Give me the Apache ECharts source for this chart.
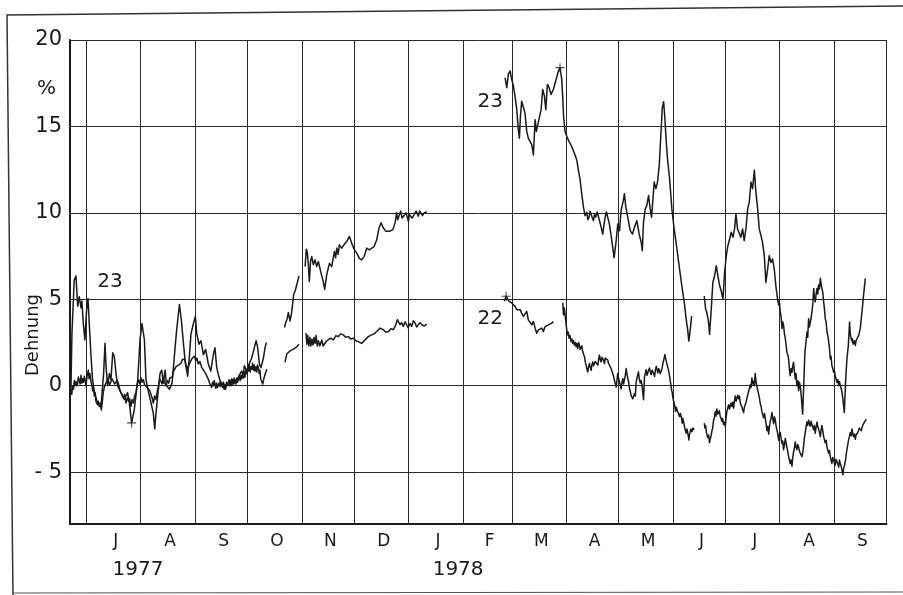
<!DOCTYPE html>
<html>
<head>
<meta charset="utf-8">
<script src="https://cdn.jsdelivr.net/npm/echarts@6/dist/echarts.min.js"></script>
<style>
html,body{margin:0;padding:0;background:#fff;}
#chart{width:903px;height:595px;}
</style>
</head>
<body>
<div id="chart"></div>
<script>
// x values: days since 1 July 1977; y values: Dehnung in %
const monthStarts = [0,31,62,92,123,153,184,215,243,274,304,335,365,396,427,457];
const monthLetters = ['J','A','S','O','N','D','J','F','M','A','M','J','J','A','S'];
const yearLabels = ['1977','1978'];
const yearDays = [29.4, 212.3];
const yTicks = [-5,0,5,10,15,20];

// Series 23
const s23_1977a = [[-8.9,-0.4],[-8.3,3.0],[-7.0,6.1],[-6.0,6.35],[-5.0,4.6],[-4.1,5.15],[-3.1,4.5],[-2.6,4.9],[-1.8,3.6],[-0.9,2.65],[0.1,4.4],[0.9,5.05],[1.6,3.6],[2.6,1.7],[3.5,0.35],[4.5,-0.4],[6.4,-1.0],[8.3,-1.2],[9.8,0.7],[10.6,2.45],[11.2,1.1],[12.1,0.0],[13.1,0.7],[14.0,0.35],[15.0,1.9],[15.9,1.7],[16.9,0.7],[17.8,0.0],[19.7,-0.4],[21.6,-0.8],[23.5,-0.4],[24.5,-1.0],[25.8,-2.15],[27.3,-1.4],[29.3,0.35],[30.6,2.65],[31.7,3.6],[33.1,2.65],[34.0,0.35],[35.5,-0.4],[36.9,-1.0],[38.2,-1.6],[39.0,-2.5],[39.7,-1.6],[40.7,-0.6],[42.0,0.7],[43.0,0.9],[43.9,0.15],[44.9,0.9],[45.8,0.0],[47.4,-0.2],[48.9,0.15],[50.2,1.7],[51.5,3.2],[53.1,4.7],[54.2,3.8],[55.4,2.45],[56.5,1.3],[57.8,0.55],[58.8,1.7],[59.7,3.0],[61.1,3.6],[62.2,4.0],[63.0,3.0],[64.3,2.4],[65.4,2.6],[66.8,1.8],[68.1,2.1],[69.6,1.25],[71.0,0.85],[72.5,1.8],[73.4,2.2],[74.4,1.05],[75.7,0.5],[77.2,0.0],[78.2,0.2],[79.1,-0.2],[80.0,0.1],[81.0,0.2],[82.0,0.0],[83.0,0.4],[84.0,0.1],[84.9,0.2],[85.9,0.35],[86.8,0.5],[87.8,0.7],[88.7,0.85],[89.5,0.6],[90.2,1.15],[91.5,0.85],[92.9,1.25],[94.4,1.6],[95.9,2.2],[96.9,2.6],[97.8,2.2],[98.8,1.25],[99.7,1.05],[101.1,1.6],[102.0,2.2],[102.8,2.5]];
const s23_1977b = [[113.1,3.37],[113.8,3.65],[114.6,3.85],[115.3,4.23],[116.3,3.75],[117.2,4.23],[118.4,5.29],[119.2,5.48],[120.1,5.83],[121.4,6.35]];
const s23_1977c = [[124.9,6.89],[125.6,7.9],[126.2,7.67],[126.7,7.1],[127.3,6.01],[128.0,7.2],[128.7,7.47],[129.6,7.0],[130.6,7.28],[131.5,6.9],[132.5,7.18],[133.8,6.6],[135.3,6.01],[136.1,5.58],[137.2,6.4],[138.8,7.08],[140.1,6.89],[141.6,7.76],[142.3,7.4],[143.0,7.96],[143.7,7.6],[144.5,8.15],[145.8,7.96],[147.1,8.15],[148.7,8.35],[150.2,8.64],[151.5,8.25],[153.1,7.86],[154.4,7.67],[155.9,7.37],[157.2,7.28],[158.6,7.47],[160.1,7.96],[161.4,7.86],[163.0,7.96],[164.3,8.05],[165.8,8.44],[167.1,9.12],[168.3,9.42],[169.6,9.12],[171.1,8.93],[173.1,8.93],[175.0,9.03],[176.3,9.42],[177.2,10.0],[177.8,9.6],[178.4,9.71],[179.5,10.1],[180.3,9.7],[181.1,9.81],[182.6,10.0],[183.9,9.51],[184.5,9.9],[185.2,10.0],[186.0,9.7],[186.8,9.81],[187.5,9.95],[188.3,10.1],[189.6,9.81],[190.3,10.1],[191.0,10.0],[192.0,9.85],[192.9,10.0],[194.4,10.06]];
const s23_1978a = [[239.1,17.82],[240.1,17.24],[241.0,18.02],[242.0,18.21],[242.9,17.72],[243.9,17.33],[244.8,16.75],[245.8,15.97],[246.7,14.8],[247.3,14.32],[247.9,15.58],[248.6,16.46],[249.6,16.36],[250.5,15.78],[251.5,14.71],[252.4,14.32],[253.4,14.22],[254.4,13.93],[255.3,13.35],[256.3,15.39],[257.0,14.71],[257.8,15.1],[258.5,15.0],[259.7,15.97],[260.6,17.14],[261.6,16.75],[262.4,15.97],[263.3,17.43],[264.3,17.24],[265.4,16.85],[266.7,17.14],[269.6,18.21],[270.5,18.4],[271.5,17.72],[272.1,16.56],[272.6,15.49],[273.4,14.71],[274.4,14.42],[275.7,14.12],[277.2,13.83],[278.2,13.93],[279.1,13.35],[280.1,13.05],[281.0,12.47],[282.0,11.89],[282.9,11.11],[283.9,10.33],[284.8,9.84],[285.8,10.04],[286.4,9.6],[287.1,9.75],[287.7,10.1],[288.3,10.04],[289.0,9.7],[289.6,9.55],[290.2,9.9],[290.9,9.75],[291.7,10.05],[292.5,9.94],[293.2,9.5],[294.0,9.16],[294.9,8.77],[295.6,9.3],[296.3,9.75],[297.0,10.05],[297.6,9.94],[298.7,9.36],[300.1,8.39],[301.4,7.41],[302.6,8.39],[303.5,9.36],[304.5,8.97],[305.4,10.14],[306.7,10.72],[307.3,11.11],[308.1,10.33],[309.2,9.75],[310.6,8.97],[311.9,8.77],[313.0,9.16],[314.4,9.55],[315.7,8.78],[316.9,8.29],[317.5,7.81],[318.2,9.46],[319.2,10.23],[320.1,10.43],[321.1,11.01],[322.0,10.23],[322.8,9.75],[323.6,10.81],[324.3,11.78],[325.3,11.4],[326.2,11.78],[327.2,12.75],[328.1,14.5],[328.9,16.05],[329.7,16.43],[330.4,15.47],[331.2,14.11],[331.9,13.14],[333.1,11.98],[334.4,10.23],[335.7,9.07],[337.3,7.91],[338.8,6.74],[340.1,5.78],[341.5,4.81],[342.6,3.84],[343.4,3.26],[344.1,2.58],[344.9,3.26],[345.7,4.03]];
const s23_1978b = [[352.9,5.19],[353.7,4.42],[354.4,4.22],[355.4,3.64],[355.9,2.97],[356.9,4.42],[357.8,5.97],[358.8,6.36],[359.8,6.94],[360.7,6.36],[361.7,5.78],[362.6,5.48],[363.6,5.0],[364.5,6.55],[365.5,7.52],[366.4,8.1],[367.4,8.49],[368.3,8.88],[369.3,8.59],[370.2,9.07],[371.0,9.94],[371.9,9.07],[372.9,9.07],[373.8,8.59],[374.8,9.07],[375.7,8.39],[376.7,9.07],[377.7,10.23],[378.6,10.62],[379.6,11.78],[380.5,11.4],[381.5,12.46],[382.4,11.2],[383.4,10.23],[384.3,9.07],[385.3,8.68],[386.2,8.29],[387.2,7.52],[388.1,5.97],[389.1,6.74],[390.0,7.52],[391.0,7.13],[391.9,7.33],[392.9,6.74],[393.8,5.78],[394.8,5.0],[395.4,4.66],[395.8,4.9],[396.3,4.27],[396.8,4.0],[397.3,3.3],[397.7,3.7],[398.2,3.5],[398.7,3.0],[399.2,2.72],[399.6,2.4],[400.1,1.94],[400.6,1.8],[401.1,1.55],[401.5,1.0],[402.0,0.58],[402.5,1.0],[403.0,0.78],[403.4,1.1],[403.9,1.36],[404.4,0.8],[404.9,0.39],[405.3,0.7],[405.8,0.0],[406.3,0.3],[406.8,-0.29],[407.2,0.2],[407.7,0.0],[408.3,-0.58],[409.1,-1.65],[409.7,0.0],[410.4,1.94],[411.6,3.11],[412.0,2.8],[412.5,3.88],[413.0,3.4],[413.5,3.5],[413.9,3.9],[414.4,4.27],[414.9,4.7],[415.4,5.63],[415.8,5.1],[416.3,4.85],[416.8,5.3],[417.3,5.63],[417.7,5.3],[418.2,5.83],[418.7,5.6],[419.2,6.21],[419.6,5.9],[420.1,5.83],[420.6,5.4],[421.1,4.85],[421.5,4.5],[422.0,3.88],[422.5,3.7],[423.0,3.11],[423.5,2.9],[424.0,2.52],[424.4,2.2],[424.9,1.55],[425.3,1.7],[425.8,1.17],[426.3,1.0],[426.8,0.78],[427.2,0.9],[427.7,0.58],[428.2,0.5],[428.7,0.19],[429.2,0.35],[429.7,0.0],[430.1,0.25],[430.6,0.0],[431.1,-0.15],[431.6,-0.39],[432.1,-0.78],[432.9,-1.55],[433.7,0.39],[434.4,1.55],[435.2,2.33],[435.9,3.69],[436.3,3.0],[436.7,3.11],[437.1,2.6],[437.5,2.72],[437.9,2.4],[438.2,2.33],[438.7,2.6],[439.2,2.33],[439.6,2.6],[440.1,2.52],[440.6,2.7],[441.1,2.91],[442.0,3.3],[443.0,4.27],[443.9,5.24],[444.9,6.21]];

// Series 22
const s22_1977a = [[-8.9,-0.23],[-8.4,-0.5],[-7.9,0.0],[-7.4,-0.2],[-6.9,0.3],[-6.5,0.0],[-6.0,0.25],[-5.5,0.0],[-5.0,0.15],[-4.6,0.5],[-4.1,0.45],[-3.6,0.1],[-3.1,0.6],[-2.6,0.15],[-2.1,0.4],[-1.7,0.2],[-1.2,0.55],[-0.7,0.3],[-0.3,0.0],[0.3,0.5],[1.05,0.9],[1.5,0.4],[2.0,0.7],[2.5,0.3],[3.15,0.0],[3.6,-0.3],[4.0,-0.1],[4.5,-0.6],[5.0,-0.4],[5.4,-0.9],[5.8,-0.8],[6.3,-1.1],[6.8,-0.9],[7.3,-1.2],[7.8,-1.0],[8.5,-1.4],[9.0,-1.0],[9.6,-0.4],[10.4,0.0],[11.2,0.15],[12.0,0.4],[12.7,0.35],[13.3,0.05],[14.0,0.0],[14.6,0.4],[15.3,0.35],[16.1,0.1],[16.9,0.0],[17.6,0.3],[18.4,0.05],[19.0,-0.2],[19.7,-0.4],[20.4,-0.3],[21.1,-0.7],[21.8,-0.5],[22.6,-1.0],[23.3,-0.7],[24.1,-0.9],[24.7,-0.75],[25.4,-1.2],[26.1,-0.8],[26.8,-1.0],[27.5,-0.6],[28.3,-0.4],[29.0,0.1],[29.8,0.35],[30.5,0.1],[31.2,0.45],[31.8,0.2],[32.5,0.35],[33.2,0.05],[34.0,0.15],[34.7,-0.1],[35.5,0.0],[36.2,-0.3],[36.9,-0.4],[37.5,-0.7],[38.2,-1.0],[38.9,-0.6],[39.7,-0.8],[40.5,-0.3],[41.2,0.0],[41.9,0.4],[42.6,0.35],[43.2,0.1],[43.9,0.45],[44.6,0.2],[45.4,0.0],[46.2,0.3],[47.0,0.15],[47.6,0.45],[48.3,0.35],[49.0,0.5],[49.6,0.8],[50.4,0.9],[51.2,1.1],[52.0,1.0],[52.7,1.2],[53.3,1.1],[54.0,1.3],[54.7,1.5],[55.3,1.4],[56.1,1.55],[56.9,1.2],[57.6,1.0],[58.4,0.9],[59.0,1.3],[59.7,1.2],[60.4,1.6],[61.1,1.5],[61.8,1.7],[62.4,1.45],[63.1,1.6],[63.9,1.25],[64.8,1.4],[65.8,1.06],[66.8,1.1],[67.7,0.77],[68.6,0.6],[69.6,0.38],[70.5,0.1],[71.5,-0.1],[72.0,0.2],[72.5,0.0],[73.0,0.3],[73.4,0.1],[73.9,-0.15],[74.4,0.15],[74.8,-0.1],[75.3,-0.1],[75.8,0.15],[76.3,-0.05],[76.7,0.25],[77.2,0.1],[77.7,-0.1],[78.2,0.15],[78.6,-0.2],[79.1,0.05],[79.5,-0.2],[80.0,0.2],[80.5,0.0],[81.0,0.1],[81.5,0.35],[82.0,0.05],[82.5,0.3],[83.0,0.0],[83.5,0.35],[84.0,0.15],[84.4,0.45],[84.9,0.3],[85.4,0.1],[85.9,0.45],[86.3,0.2],[86.8,0.2],[87.3,0.55],[87.8,0.3],[88.2,0.6],[88.7,0.4],[89.2,0.7],[89.7,0.45],[90.1,0.8],[90.6,0.5],[91.1,0.9],[91.6,0.7],[92.0,1.0],[92.5,0.85],[93.0,1.2],[93.5,0.8],[94.0,1.1],[94.4,0.95],[94.9,1.3],[95.4,0.9],[95.8,1.2],[96.3,0.85],[96.8,1.1],[97.3,0.8],[97.7,1.2],[98.2,1.05],[98.7,0.7],[99.1,0.9],[99.5,0.4],[100.1,0.3],[100.7,0.1],[101.3,0.4],[102.0,0.65],[102.5,0.8],[103.0,0.95]];
const s22_1977b = [[113.4,1.35],[114.4,1.83],[115.3,1.83],[116.3,2.02],[117.2,1.98],[118.2,2.12],[119.2,2.12],[120.1,2.25],[121.4,2.4]];
const s22_1977c = [[125.4,3.04],[125.9,2.4],[126.4,2.9],[127.0,2.3],[127.6,2.8],[128.2,2.3],[128.8,2.7],[129.4,2.35],[130.0,2.8],[130.6,2.45],[131.2,2.9],[131.8,2.3],[132.5,2.6],[133.3,2.3],[134.4,2.65],[135.2,2.3],[136.3,2.4],[137.2,2.6],[138.2,2.55],[139.5,2.75],[141.0,2.65],[142.5,2.9],[143.9,2.84],[145.2,3.0],[146.7,2.94],[148.1,2.8],[149.6,2.84],[151.0,2.7],[152.5,2.75],[153.9,2.6],[155.3,2.55],[157.2,2.45],[159.1,2.65],[161.0,2.84],[162.9,2.94],[164.3,3.0],[165.8,3.14],[167.7,3.33],[169.6,3.24],[171.0,3.1],[172.5,3.14],[173.9,3.3],[175.3,3.24],[176.4,3.45],[177.6,3.82],[179.1,3.53],[180.0,3.65],[181.0,3.43],[182.0,3.7],[182.9,3.63],[183.8,3.35],[184.8,3.6],[185.8,3.43],[186.7,3.75],[187.7,3.63],[188.6,3.4],[189.6,3.43],[190.5,3.65],[191.5,3.53],[192.9,3.45],[194.4,3.57]];
const s22_1978a = [[238.7,4.88],[239.7,5.18],[240.6,5.27],[241.4,4.88],[242.2,4.98],[242.9,4.79],[243.9,4.88],[244.8,4.59],[245.8,4.4],[246.7,4.49],[247.7,4.4],[248.6,4.2],[249.6,4.01],[250.5,3.91],[251.5,4.3],[252.4,3.81],[253.4,3.72],[254.4,3.52],[255.3,3.72],[256.3,3.33],[257.2,3.04],[258.2,3.23],[259.1,3.13],[260.1,3.33],[261.0,3.13],[262.0,3.42],[262.9,3.33],[263.9,3.52],[264.8,3.42],[265.8,3.62],[266.7,3.72]];
const s22_1978b = [[272.1,4.79],[272.5,4.1],[273.0,4.49],[273.8,3.72],[274.7,2.94],[275.2,3.1],[275.7,2.74],[276.2,2.9],[276.8,2.55],[277.3,2.7],[277.8,2.45],[278.2,2.6],[278.7,2.35],[279.2,2.5],[279.7,2.26],[280.1,2.45],[280.6,2.16],[281.1,2.5],[281.6,2.35],[282.0,2.1],[282.5,2.16],[283.0,2.3],[283.5,1.96],[284.0,1.8],[284.5,1.67],[285.0,1.35],[285.4,1.19],[285.9,0.95],[286.4,0.8],[286.8,1.1],[287.3,1.28],[287.8,1.05],[288.3,0.89],[288.7,1.2],[289.2,1.38],[289.7,1.15],[290.2,1.09],[290.6,1.4],[291.1,1.48],[291.6,1.3],[292.1,1.19],[292.5,1.5],[293.0,1.77],[293.5,1.5],[294.0,1.38],[294.4,1.65],[294.9,1.58],[295.4,1.45],[295.9,1.28],[296.3,1.6],[296.8,1.58],[297.3,1.7],[297.8,1.48],[298.2,1.3],[298.7,1.19],[299.2,1.3],[299.7,0.99],[300.1,1.1],[300.6,0.7],[301.1,0.55],[301.6,0.31],[302.1,0.2],[302.6,-0.08],[303.0,0.3],[303.5,0.7],[304.0,0.4],[304.5,0.21],[305.0,0.0],[305.4,-0.18],[305.9,0.2],[306.4,0.41],[306.8,0.1],[307.3,0.21],[307.8,0.6],[308.3,0.99],[308.7,0.7],[309.2,0.6],[309.7,0.2],[310.2,-0.18],[310.6,-0.3],[311.1,-0.56],[311.6,-0.5],[312.1,-0.76],[312.5,-0.8],[313.0,-0.47],[313.5,-0.6],[314.0,0.21],[314.6,0.5],[315.3,0.8],[315.8,0.4],[316.3,0.16],[316.8,0.3],[317.3,0.06],[317.7,-0.3],[318.2,-0.81],[318.8,0.54],[319.2,0.7],[319.7,0.93],[320.2,0.6],[320.7,0.54],[321.1,0.9],[321.6,1.03],[322.1,0.8],[322.6,0.64],[323.1,0.9],[323.6,0.93],[324.0,0.7],[324.5,0.54],[325.0,0.9],[325.5,1.12],[326.0,0.9],[326.4,0.74],[326.9,1.0],[327.4,0.93],[327.8,0.7],[328.3,0.74],[328.8,1.0],[329.3,1.32],[329.8,1.5],[330.4,1.8],[330.8,1.6],[331.2,1.61],[331.9,1.12],[332.5,0.9],[333.1,0.54],[333.6,0.2],[334.2,-0.23],[334.6,-0.4],[335.0,-0.72],[335.4,-0.75],[335.7,-1.01],[336.1,-1.2],[336.5,-1.49],[336.9,-1.25],[337.3,-1.3],[337.7,-1.5],[338.0,-1.59],[338.4,-1.5],[338.8,-1.78],[339.2,-1.6],[339.6,-1.59],[340.0,-1.9],[340.3,-2.17],[340.7,-1.9],[341.1,-1.98],[341.5,-2.3],[341.8,-2.46],[342.2,-2.4],[342.6,-2.75],[343.0,-2.5],[343.4,-2.56],[343.8,-2.9],[344.1,-3.14],[344.5,-2.8],[344.9,-2.75],[345.3,-2.5],[345.8,-2.66],[346.5,-2.45],[347.2,-2.56]];
const s22_1978c = [[352.9,-2.17],[353.3,-2.45],[353.7,-2.3],[354.1,-2.7],[354.4,-2.6],[354.9,-3.0],[355.4,-2.85],[355.9,-3.3],[356.3,-3.1],[356.8,-2.9],[357.3,-2.6],[357.7,-2.45],[358.2,-2.0],[358.7,-1.85],[359.2,-1.5],[359.6,-1.75],[360.1,-1.35],[360.6,-1.65],[361.1,-1.7],[361.5,-1.45],[362.0,-1.75],[362.5,-1.8],[363.0,-2.05],[363.4,-1.9],[363.9,-2.25],[364.4,-2.1],[364.9,-2.35],[365.3,-1.9],[365.8,-1.5],[366.3,-1.3],[366.8,-1.1],[367.3,-1.35],[367.8,-1.25],[368.2,-1.0],[368.7,-1.2],[369.2,-0.95],[369.7,-1.3],[370.1,-0.9],[370.6,-0.6],[371.1,-0.9],[371.6,-0.85],[372.0,-0.55],[372.5,-0.75],[373.0,-0.6],[373.5,-1.0],[373.9,-0.95],[374.4,-1.25],[374.9,-1.3],[375.4,-1.55],[375.8,-1.25],[376.3,-1.15],[376.8,-0.95],[377.3,-0.7],[377.7,-0.55],[378.2,-0.35],[378.7,-0.25],[379.2,0.05],[379.6,-0.1],[380.1,0.45],[380.6,0.1],[381.1,0.25],[381.5,0.0],[382.0,0.7],[382.5,0.2],[383.0,0.1],[383.5,-0.3],[384.0,-0.5],[384.4,-0.7],[384.9,-1.05],[385.4,-1.2],[385.8,-1.5],[386.3,-1.45],[386.8,-1.85],[387.3,-1.6],[387.8,-1.5],[388.2,-2.2],[388.7,-2.6],[389.2,-2.35],[389.7,-2.8],[390.1,-2.4],[390.6,-2.05],[391.1,-1.85],[391.6,-1.55],[392.0,-1.9],[392.5,-2.2],[393.0,-1.8],[393.5,-2.0],[393.9,-2.3],[394.4,-2.55],[394.9,-2.8],[395.4,-3.15],[395.8,-2.85],[396.3,-2.7],[396.8,-3.05],[397.3,-3.35],[397.7,-3.2],[398.2,-3.7],[398.7,-3.4],[399.2,-3.05],[399.6,-3.3],[400.1,-3.55],[400.6,-3.8],[401.1,-4.1],[401.5,-4.0],[402.0,-4.5],[402.5,-4.3],[403.0,-4.65],[403.4,-4.2],[403.9,-3.85],[404.4,-3.6],[404.9,-3.25],[405.3,-3.55],[405.8,-3.7],[406.3,-3.4],[406.8,-3.55],[407.2,-3.75],[407.7,-3.9],[408.2,-3.8],[408.7,-4.1],[409.2,-3.85],[409.7,-3.45],[410.1,-3.0],[410.6,-2.7],[411.1,-2.35],[411.6,-2.1],[412.0,-2.3],[412.5,-2.0],[413.0,-2.2],[413.5,-2.35],[413.9,-2.05],[414.4,-2.15],[414.9,-2.4],[415.4,-2.55],[415.8,-2.3],[416.3,-2.75],[416.8,-2.4],[417.3,-2.1],[417.7,-2.35],[418.2,-2.5],[418.7,-2.7],[419.2,-2.95],[419.6,-2.6],[420.1,-2.3],[420.6,-2.6],[421.1,-2.95],[421.5,-3.1],[422.0,-3.3],[422.5,-3.15],[423.0,-3.55],[423.4,-3.7],[423.9,-3.9],[424.4,-3.75],[424.9,-4.1],[425.3,-4.2],[425.8,-4.5],[426.3,-4.15],[426.8,-4.3],[427.2,-4.45],[427.7,-4.6],[428.2,-4.25],[428.7,-4.4],[429.2,-4.55],[429.7,-4.7],[430.1,-4.3],[430.6,-4.5],[431.1,-4.65],[431.6,-4.9],[432.1,-5.15],[432.5,-4.8],[432.9,-4.65],[433.3,-4.45],[433.7,-4.25],[434.0,-3.95],[434.4,-3.7],[434.9,-3.4],[435.4,-3.1],[435.8,-2.95],[436.3,-2.7],[436.8,-2.9],[437.3,-2.5],[437.7,-2.75],[438.2,-2.95],[438.7,-2.8],[439.2,-3.1],[439.6,-2.85],[440.1,-2.95],[440.6,-2.7],[441.1,-2.6],[441.5,-2.45],[442.0,-2.35],[442.5,-2.6],[443.0,-2.5],[443.4,-2.3],[443.9,-2.2],[444.7,-2.05],[445.5,-1.94]];

// curve labels and small "+" markers (data coordinates)
const curveLabels = [
  {name:'23', at:[13.4, 6.0]},
  {name:'23', at:[230.6, 16.4]},
  {name:'22', at:[230.6, 3.9]}
];
const crossMarks = [[25.8,-2.15],[270.5,18.4],[239.7,5.18]];

const FONT = 'DejaVu Sans';
const INK = '#1a1a1a';

const labelDays = monthLetters.map((m, i) => (monthStarts[i] + monthStarts[i+1]) / 2 + 1.3);

function lineSeries(data) {
  return {
    type: 'line', data: data, showSymbol: false, symbol: 'none',
    lineStyle: {color: INK, width: 1.5, join: 'round'}, silent: true, animation: false,
    xAxisIndex: 0, yAxisIndex: 0, z: 3
  };
}

const segments = [s23_1977a, s23_1977b, s23_1977c, s23_1978a, s23_1978b,
                  s22_1977a, s22_1977b, s22_1977c, s22_1978a, s22_1978b, s22_1978c];
const series = segments.map(d => lineSeries(d));

series.push({
  type: 'scatter', data: [], silent: true, animation: false,
  markPoint: {
    symbol: 'circle', symbolSize: 1, itemStyle: {color: 'rgba(0,0,0,0)'},
    label: {show: true, position: 'inside', color: INK, fontSize: 20, fontFamily: FONT, formatter: p => p.name},
    data: curveLabels.map(c => ({name: c.name, coord: c.at}))
  }
});
series.push({
  type: 'scatter', data: crossMarks, silent: true, animation: false,
  symbol: 'path://M4.4,0H5.6V4.4H10V5.6H5.6V10H4.4V5.6H0V4.4H4.4Z', symbolSize: 9,
  itemStyle: {color: INK}, z: 4
});

const chart = echarts.init(document.getElementById('chart'), null, {renderer: 'canvas'});
chart.setOption({
  backgroundColor: '#ffffff',
  animation: false,
  grid: {left: 70, right: 16.5, top: 40, bottom: 71, containLabel: false, outerBoundsMode: 'none'},
  xAxis: [{
    type: 'value', min: -9.4, max: 457,
    axisLine: {show: true, onZero: false, lineStyle: {color: INK, width: 2}},
    axisTick: {show: false, customValues: monthStarts},
    splitLine: {show: true, lineStyle: {color: '#2a2a2a', width: 1}},
    axisLabel: {
      customValues: labelDays, margin: 9, fontSize: 17, fontFamily: FONT, color: INK,
      formatter: v => { const i = labelDays.findIndex(d => Math.abs(d - v) < 0.01); return i >= 0 ? monthLetters[i] : ''; }
    }
  }, {
    type: 'value', min: -9.4, max: 457, position: 'bottom',
    axisLine: {show: false}, axisTick: {show: false}, splitLine: {show: false},
    axisLabel: {
      customValues: yearDays, margin: 36, fontSize: 20, fontFamily: FONT, color: INK,
      formatter: v => { const i = yearDays.findIndex(d => Math.abs(d - v) < 0.01); return i >= 0 ? yearLabels[i] : ''; }
    }
  }],
  yAxis: {
    type: 'value', min: -8, max: 20,
    axisLine: {show: true, onZero: false, lineStyle: {color: INK, width: 2}},
    axisTick: {show: false, customValues: yTicks},
    splitLine: {show: true, lineStyle: {color: '#2a2a2a', width: 1}},
    axisLabel: {
      customValues: yTicks.concat([17.2]), margin: 8, fontSize: 21, fontFamily: FONT, color: INK,
      formatter: v => {
        if (Math.abs(v - 17.2) < 0.01) return '{pct|%}';
        if (v < 0) return '- ' + Math.abs(v);
        return String(v);
      },
      rich: {pct: {fontSize: 20, fontFamily: FONT, color: INK, padding: [0, 6, 0, 0]}}
    }
  },
  graphic: [
    {type: 'polyline', shape: {points: [[905, 6], [7, 15], [13, 597]]}, style: {stroke: '#333', lineWidth: 1.5, fill: null}, silent: true},
    {type: 'line', shape: {x1: 13, y1: 593, x2: 905, y2: 592}, style: {stroke: '#555', lineWidth: 1.2}, silent: true},
    {type: 'text', x: 33, y: 335, rotation: Math.PI / 2, silent: true,
     style: {text: 'Dehnung', fontSize: 18, fontFamily: FONT, fill: INK, align: 'center', verticalAlign: 'middle'}}
  ],
  series: series
});
</script>
</body>
</html>
